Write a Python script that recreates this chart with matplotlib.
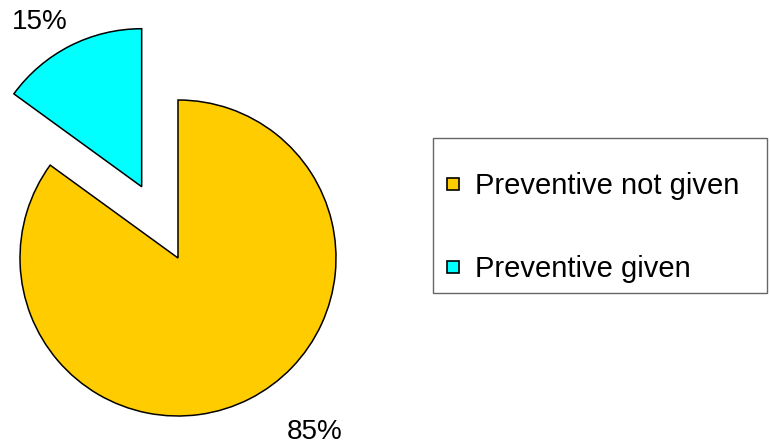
import matplotlib.pyplot as plt
from matplotlib.lines import Line2D
from matplotlib.patches import Rectangle

plt.rcParams['font.family'] = ['Liberation Sans', 'DejaVu Sans']

labels = ['Preventive not given', 'Preventive given']
values = [85, 15]
colors = ['#FFCC00', '#00FFFF']
explode = [0, 80]

fig = plt.figure(figsize=(7.7, 4.46), dpi=100)
ax = fig.add_axes([0, 0, 1, 1])

# pie laid out in pixel units, clockwise from 12 o'clock
ax.pie(values, colors=colors, explode=explode, startangle=90, counterclock=False,
       center=(178, 188), radius=158, frame=True,
       wedgeprops=dict(edgecolor='black', linewidth=1.1))
ax.set_xlim(0, 770)
ax.set_ylim(0, 446)
ax.set_aspect('equal')
ax.axis('off')

ax.text(40, 424, '%d%%' % values[1], fontsize=20, ha='center', va='center')
ax.text(315, 14, '%d%%' % values[0], fontsize=20, ha='center', va='center')

# legend frame
fig.patches.append(Rectangle((433 / 770, 153 / 446), 334 / 770, 155 / 446,
                             transform=fig.transFigure, fill=False,
                             edgecolor='#666666', linewidth=1.0))
handles = [Line2D([], [], marker='s', linestyle='none', markersize=9,
                  markerfacecolor=c, markeredgecolor='black', markeredgewidth=1.2)
           for c in colors]
fig.legend(handles, labels, loc='upper left', bbox_to_anchor=(437 / 770, 1 - 163 / 446),
           frameon=False, fontsize=21, handlelength=0.5, handletextpad=0.5,
           labelspacing=1.9, borderpad=0.3, borderaxespad=0)

fig.savefig('out.png', dpi=100)
